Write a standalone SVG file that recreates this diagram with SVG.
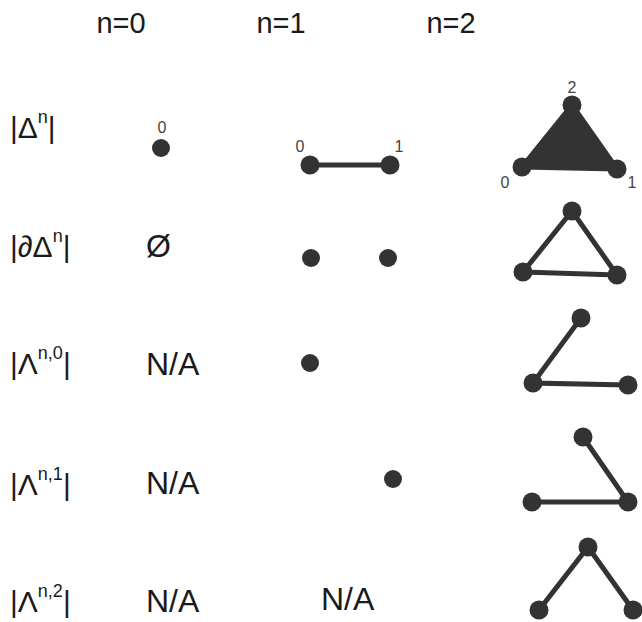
<svg xmlns="http://www.w3.org/2000/svg" width="642" height="622" viewBox="0 0 642 622">
<style>
text{font-family:"Liberation Sans",Arial,sans-serif;fill:#1a1a1a}
.hd{font-size:29px;text-anchor:middle}
.rl{font-size:30px}
.sup{font-size:18px}
.val{font-size:32px}
.vl{font-size:16px;fill:#444;text-anchor:middle}
.pt{fill:#333}
.ed{stroke:#333;stroke-width:5;stroke-linecap:round;fill:none}
</style>
<rect width="642" height="622" fill="#fff"/>
<g id="headers">
<text class="hd" x="121" y="33">n=0</text>
<text class="hd" x="281" y="33">n=1</text>
<text class="hd" x="451" y="33">n=2</text>
</g>
<g id="row-labels">
<text class="rl" x="10" y="138">|Δ<tspan class="sup" dy="-15">n</tspan><tspan dy="15">|</tspan></text>
<text class="rl" x="10" y="257">|∂Δ<tspan class="sup" dy="-15">n</tspan><tspan dy="15">|</tspan></text>
<text class="rl" x="10" y="374">|Λ<tspan class="sup" dy="-15">n,0</tspan><tspan dy="15">|</tspan></text>
<text class="rl" x="10" y="495">|Λ<tspan class="sup" dy="-15">n,1</tspan><tspan dy="15">|</tspan></text>
<text class="rl" x="10" y="612">|Λ<tspan class="sup" dy="-15">n,2</tspan><tspan dy="15">|</tspan></text>
</g>
<g id="connectors">
<line class="ed" x1="310" y1="165" x2="390" y2="165"/>
<polygon points="572,105 522,167 617,169" fill="#333" stroke="#333" stroke-width="5" stroke-linejoin="round"/>
<polygon class="ed" points="572,211 523,272 617,275" stroke-linejoin="round"/>
<polyline class="ed" points="581,318 533,383 628,385"/>
<polyline class="ed" points="583,437 628,502 532,502"/>
<polyline class="ed" points="539,610 588,547 633,610"/>
</g>
<g id="n0-delta">
<circle class="pt" cx="161" cy="148" r="9"/>
<text class="vl" x="162" y="133">0</text>
</g>
<g id="n1-delta">
<circle class="pt" cx="310" cy="165" r="9.5"/>
<circle class="pt" cx="390" cy="165" r="9.5"/>
<text class="vl" x="300" y="152">0</text>
<text class="vl" x="399" y="152">1</text>
</g>
<g id="n2-delta">
<circle class="pt" cx="572" cy="105" r="9.5"/>
<circle class="pt" cx="522" cy="167" r="9.5"/>
<circle class="pt" cx="617" cy="169" r="9.5"/>
<text class="vl" x="572" y="93">2</text>
<text class="vl" x="505" y="188">0</text>
<text class="vl" x="632" y="188">1</text>
</g>
<g id="n0-boundary"><text class="val" x="146" y="257">Ø</text></g>
<g id="n1-boundary">
<circle class="pt" cx="311" cy="258" r="9"/>
<circle class="pt" cx="388" cy="258" r="9"/>
</g>
<g id="n2-boundary">
<circle class="pt" cx="572" cy="211" r="9.5"/>
<circle class="pt" cx="523" cy="272" r="9.5"/>
<circle class="pt" cx="617" cy="275" r="9.5"/>
</g>
<g id="n0-horn0"><text class="val" x="146" y="375">N/A</text></g>
<g id="n1-horn0"><circle class="pt" cx="310" cy="363" r="9"/></g>
<g id="n2-horn0">
<circle class="pt" cx="581" cy="318" r="9.5"/>
<circle class="pt" cx="533" cy="383" r="9.5"/>
<circle class="pt" cx="628" cy="385" r="9.5"/>
</g>
<g id="n0-horn1"><text class="val" x="146" y="494">N/A</text></g>
<g id="n1-horn1"><circle class="pt" cx="393" cy="479" r="9"/></g>
<g id="n2-horn1">
<circle class="pt" cx="583" cy="437" r="9.5"/>
<circle class="pt" cx="532" cy="502" r="9.5"/>
<circle class="pt" cx="628" cy="502" r="9.5"/>
</g>
<g id="n0-horn2"><text class="val" x="146" y="612">N/A</text></g>
<g id="n1-horn2"><text class="val" x="321" y="610">N/A</text></g>
<g id="n2-horn2">
<circle class="pt" cx="588" cy="547" r="9.5"/>
<circle class="pt" cx="539" cy="610" r="9.5"/>
<circle class="pt" cx="633" cy="610" r="9.5"/>
</g>
</svg>
